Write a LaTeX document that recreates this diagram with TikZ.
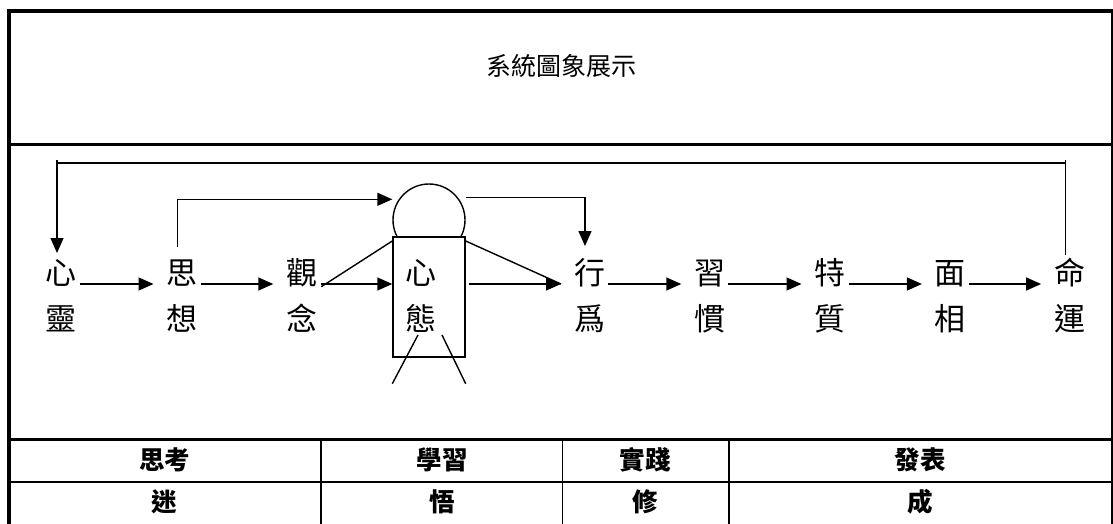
\documentclass[tikz,border=0pt]{standalone}
\usepackage{fontspec}
\setmainfont{Noto Sans CJK TC}
\usetikzlibrary{arrows.meta}
\begin{document}
\begin{tikzpicture}[x=1pt,y=-1pt,
  conn/.style={line width=1.4pt},
  arr/.style={conn,-{Triangle[length=15pt,width=13pt]}},
  flow/.style={arr,shorten <=3pt,shorten >=13pt},
  lbl/.style={inner sep=0pt,outer sep=0pt,anchor=base,font=\fontsize{31}{31}\selectfont},
  hd/.style={inner sep=0pt,font=\bfseries\fontsize{25.5}{25.5}\selectfont},
  ttl/.style={inner sep=0pt,font=\fontsize{25}{25}\selectfont},
  fig/.style={draw,line width=1.4pt,fill=white,inner sep=0pt}
]
\useasboundingbox (0,0) rectangle (1113,524);

% frame and table rules
\draw[line width=4pt] (9.3,524) -- (9.3,11) -- (1113,11);
\draw[line width=2pt] (1112,9) -- (1112,524);
\draw[line width=2.4pt] (9.3,144.5) -- (1112,144.5);
\draw[line width=3pt] (9.3,439.5) -- (1112,439.5);
\draw[line width=2pt] (9.3,482) -- (1112,482);
\foreach \cx in {321,562.5,729} \draw[line width=1.5pt] (\cx,439.5) -- (\cx,524);

% title
\node[ttl] (title) at (561,66) {系統圖象展示};

% figure: head and body
\node[fig,circle,minimum size=72pt] (head) at (429,220) {};
\node[fig,rectangle,minimum width=72pt,minimum height=120pt] (box) at (429,297) {};

% labels
\node[lbl] (xl1) at (61.4,284) {心};
\node[lbl] (xl2) at (61.4,330) {靈};
\node[lbl] (sx1) at (182,284) {思};
\node[lbl] (sx2) at (182,330) {想};
\node[lbl] (gn1) at (301.8,284) {觀};
\node[lbl] (gn2) at (301.8,330) {念};
\node[lbl] (xt1) at (421,284) {心};
\node[lbl] (xt2) at (421,330) {態};
\node[lbl] (xw1) at (589.5,284) {行};
\node[lbl] (xw2) at (589.5,330) {爲};
\node[lbl] (xg1) at (709.8,284) {習};
\node[lbl] (xg2) at (709.8,330) {慣};
\node[lbl] (tz1) at (830,284) {特};
\node[lbl] (tz2) at (830,330) {質};
\node[lbl] (mx1) at (950.4,284) {面};
\node[lbl] (mx2) at (950.4,330) {相};
\node[lbl] (my1) at (1069.6,284) {命};
\node[lbl] (my2) at (1069.6,330) {運};

% main flow
\draw[flow] (xl1.base east) -- (sx1.base west);
\draw[flow] (sx1.base east) -- (gn1.base west);
\draw[arr,shorten <=4pt] (gn1.base east) -- (box.west |- gn1.base);
\draw[flow] (box.east |- xw1.base) -- (xw1.base west);
\draw[flow] (xw1.base east) -- (xg1.base west);
\draw[flow] (xg1.base east) -- (tz1.base west);
\draw[flow] (tz1.base east) -- (mx1.base west);
\draw[flow] (mx1.base east) -- (my1.base west);

% arms and legs
\draw[conn] ([shift={(4,2.7)}]gn1.base east) -- ([yshift=-4.7pt]box.north west);
\draw[conn] ([yshift=-4.7pt]box.north east) -- ([xshift=-13pt]xw1.base west);
\draw[conn] ([shift={(-11,38)}]box.center) -- ([yshift=-26pt]box.south west);
\draw[conn] ([shift={(13,38)}]box.center) -- ([yshift=-26pt]box.south east);

% feedback loops
\coordinate (loopR) at (1065.3,159.5);
\coordinate (loopL) at (57,159.5);
\draw[conn] ([shift={(-4.3,-29)}]my1.base) -- (loopR);
\draw[conn] ([yshift=-3.5pt]loopR) -- ([yshift=-3.5pt]loopL);
\draw[arr,shorten >=31pt] (loopL) -- (xl1.base -| loopL);

\coordinate (siTop) at (177.5,199.3);
\draw[arr] ([shift={(-4.5,-37)}]sx1.base) |- (head.west |- siTop);
\coordinate (hxTop) at (465,197.3);
\draw[arr] (head.east |- hxTop) -| ([shift={(-4.5,-38)}]xw1.base);

% table text
\node[hd] (c1a) at (164.5,459.5) {思考};
\node[hd] (c2a) at (442,459.5) {學習};
\node[hd] (c3a) at (645,459.5) {實踐};
\node[hd] (c4a) at (920,459.5) {發表};
\node[hd] (c1b) at (164.5,501.5) {迷};
\node[hd] (c2b) at (442,501.5) {悟};
\node[hd] (c3b) at (645,501.5) {修};
\node[hd] (c4b) at (920,501.5) {成};
\end{tikzpicture}
\end{document}
